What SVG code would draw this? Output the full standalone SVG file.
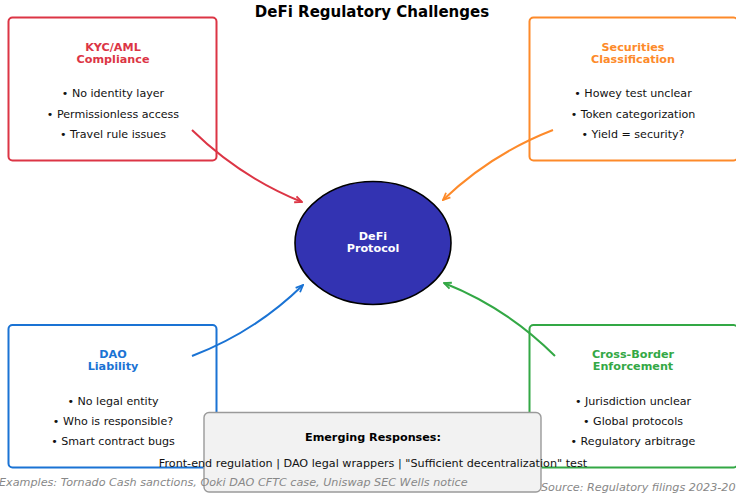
<svg xmlns="http://www.w3.org/2000/svg" width="736" height="494" viewBox="0 0 736 494">
  <style>
    text { font-family: "DejaVu Sans", "Liberation Sans", sans-serif; }
    .title { font-size: 15px; font-weight: bold; fill: #000; }
    .head { font-size: 11.2px; font-weight: bold; text-anchor: middle; }
    .item { font-size: 11.1px; fill: #111; text-anchor: middle; }
    .card { fill: #fff; stroke-width: 2; }
    .link { fill: none; stroke-width: 2; }
    .note { font-size: 11.2px; font-style: italic; fill: #888; }
  </style>
  <defs>
    <marker id="ah-red" viewBox="0 0 10 10" refX="9" refY="5" markerWidth="9" markerHeight="9" markerUnits="userSpaceOnUse" orient="auto">
      <path d="M1,1.5 L9,5 L1,8.5" fill="none" stroke="#dc3545" stroke-width="2"/>
    </marker>
    <marker id="ah-orange" viewBox="0 0 10 10" refX="9" refY="5" markerWidth="9" markerHeight="9" markerUnits="userSpaceOnUse" orient="auto">
      <path d="M1,1.5 L9,5 L1,8.5" fill="none" stroke="#fd8a2a" stroke-width="2"/>
    </marker>
    <marker id="ah-blue" viewBox="0 0 10 10" refX="9" refY="5" markerWidth="9" markerHeight="9" markerUnits="userSpaceOnUse" orient="auto">
      <path d="M1,1.5 L9,5 L1,8.5" fill="none" stroke="#1a73d4" stroke-width="2"/>
    </marker>
    <marker id="ah-green" viewBox="0 0 10 10" refX="9" refY="5" markerWidth="9" markerHeight="9" markerUnits="userSpaceOnUse" orient="auto">
      <path d="M1,1.5 L9,5 L1,8.5" fill="none" stroke="#33a845" stroke-width="2"/>
    </marker>
  </defs>

  <rect width="736" height="494" fill="#fff"/>

  <text class="title" x="372" y="16.5" text-anchor="middle">DeFi Regulatory Challenges</text>

  <!-- challenge cards -->
  <g id="kyc">
    <rect class="card" x="8.5" y="17.5" width="208" height="143" rx="4" stroke="#dc3545"/>
    <text class="head" fill="#dc3545" x="113" y="50.5">KYC/AML</text>
    <text class="head" fill="#dc3545" x="113" y="63">Compliance</text>
    <text class="item" x="113" y="97">• No identity layer</text>
    <text class="item" x="113" y="117.5">• Permissionless access</text>
    <text class="item" x="113" y="137.5">• Travel rule issues</text>
  </g>

  <g id="securities">
    <rect class="card" x="529.5" y="17.5" width="208" height="143" rx="4" stroke="#fd8a2a"/>
    <text class="head" fill="#fd8a2a" x="633" y="50.5">Securities</text>
    <text class="head" fill="#fd8a2a" x="633" y="63">Classification</text>
    <text class="item" x="633" y="97">• Howey test unclear</text>
    <text class="item" x="633" y="117.5">• Token categorization</text>
    <text class="item" x="633" y="137.5">• Yield = security?</text>
  </g>

  <g id="dao">
    <rect class="card" x="8.5" y="325" width="208" height="142.5" rx="4" stroke="#1a73d4"/>
    <text class="head" fill="#1a73d4" x="113" y="357.5">DAO</text>
    <text class="head" fill="#1a73d4" x="113" y="370">Liability</text>
    <text class="item" x="113" y="404.5">• No legal entity</text>
    <text class="item" x="113" y="424.5">• Who is responsible?</text>
    <text class="item" x="113" y="445">• Smart contract bugs</text>
  </g>

  <g id="crossborder">
    <rect class="card" x="529.5" y="325" width="208" height="142.5" rx="4" stroke="#33a845"/>
    <text class="head" fill="#33a845" x="633" y="357.5">Cross-Border</text>
    <text class="head" fill="#33a845" x="633" y="370">Enforcement</text>
    <text class="item" x="633" y="404.5">• Jurisdiction unclear</text>
    <text class="item" x="633" y="424.5">• Global protocols</text>
    <text class="item" x="633" y="445">• Regulatory arbitrage</text>
  </g>

  <!-- connectors: each challenge points at the protocol -->
  <g id="connectors">
    <path class="link" stroke="#dc3545" d="M192,130 Q240,177 302,202" marker-end="url(#ah-red)"/>
    <path class="link" stroke="#fd8a2a" d="M553,130 Q491,154 443,200" marker-end="url(#ah-orange)"/>
    <path class="link" stroke="#1a73d4" d="M192,356 Q255,332 303,285" marker-end="url(#ah-blue)"/>
    <path class="link" stroke="#33a845" d="M555,356 Q507,308 444,283" marker-end="url(#ah-green)"/>
  </g>

  <g id="protocol">
    <ellipse cx="373" cy="243" rx="78" ry="61.5" fill="#3333b2" stroke="#000" stroke-width="1.6"/>
    <text class="head" fill="#fff" x="373" y="239.5">DeFi</text>
    <text class="head" fill="#fff" x="373" y="252">Protocol</text>
  </g>

  <!-- source line sits under the responses panel -->
  <text class="note" x="541" y="490.5">Source: Regulatory filings 2023-20</text>

  <g id="responses">
    <rect x="204" y="412.5" width="337" height="79.5" rx="5" fill="#f2f2f2" stroke="#9a9a9a" stroke-width="1.4"/>
    <text class="head" fill="#000" x="373" y="440.5">Emerging Responses:</text>
    <text class="item" fill="#000" style="font-size:11.2px" x="373" y="466.5">Front-end regulation | DAO legal wrappers | "Sufficient decentralization" test</text>
  </g>

  <text class="note" x="-1" y="486">Examples: Tornado Cash sanctions, Ooki DAO CFTC case, Uniswap SEC Wells notice</text>
</svg>
